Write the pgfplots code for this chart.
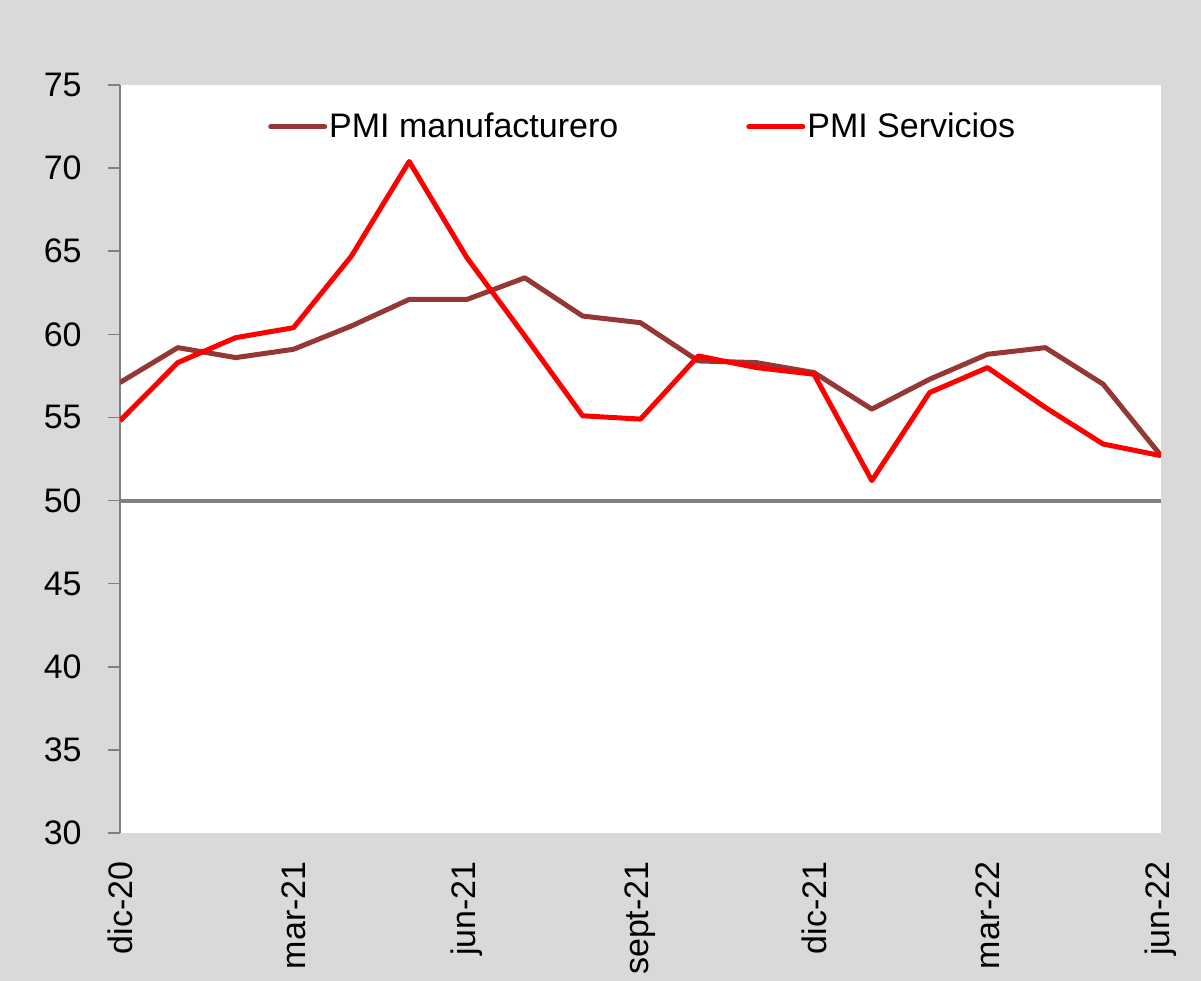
\documentclass[border=0pt]{standalone}
\usepackage{pgfplots}
\pgfplotsset{compat=1.18}
\usepackage{fontspec}
\setmainfont{Liberation Sans}
\definecolor{bgc}{HTML}{D9D9D9}
\definecolor{manu}{HTML}{953735}
\definecolor{servc}{HTML}{FF0000}
\begin{document}
\begin{tikzpicture}
\fill[bgc] (-60bp,-74bp) rectangle (540.5bp,416.5bp);
\useasboundingbox (-60bp,-74bp) rectangle (540.5bp,416.5bp);
\begin{axis}[
  at={(0,0)}, anchor=south west,
  scale only axis, width=520.5bp, height=374bp,
  xmin=0, xmax=18, ymin=30, ymax=75,
  axis background/.style={fill=white},
  axis lines*=left,
  x axis line style={draw=none},
  y axis line style={color=gray, line width=0.75bp},
  ytick={30,35,...,75},
  xtick={0,3,...,18},
  xticklabels={dic-20,mar-21,jun-21,sept-21,dic-21,mar-22,jun-22},
  x tick style={draw=none},
  y tick style={color=gray, line width=0.75bp},
  tick align=outside,
  major tick length=6bp,
  tick label style={font=\fontsize{17bp}{20bp}\selectfont},
  /pgf/number format/assume math mode=true,
  xticklabel style={rotate=90, anchor=east, inner sep=8bp},
  yticklabel style={inner sep=13bp},
  legend columns=2,
  legend style={at={(0.142,0.944)}, anchor=west, draw=none, fill=none, inner sep=0pt,
    font=\fontsize{17bp}{20bp}\selectfont,
    nodes={inner sep=1bp},
    /tikz/every even column/.append style={column sep=63bp}},
  legend image code/.code={\draw[#1, line cap=round] (0bp,0bp) -- (27bp,0bp);},
  every axis plot/.append style={line width=2.5bp, line join=round},
]
\addplot[manu] coordinates {
(0,57.1) (1,59.2) (2,58.6) (3,59.1) (4,60.5) (5,62.1) (6,62.1) (7,63.4) (8,61.1)
(9,60.7) (10,58.4) (11,58.3) (12,57.7) (13,55.5) (14,57.3) (15,58.8) (16,59.2)
(17,57.0) (18,52.7)};
\addlegendentry{PMI manufacturero}
\addplot[servc] coordinates {
(0,54.8) (1,58.3) (2,59.8) (3,60.4) (4,64.7) (5,70.4) (6,64.6) (7,59.9) (8,55.1)
(9,54.9) (10,58.7) (11,58.0) (12,57.6) (13,51.2) (14,56.5) (15,58.0) (16,55.6)
(17,53.4) (18,52.7)};
\addlegendentry{PMI Servicios}
\addplot[gray, line width=2bp, forget plot] coordinates {(0,50) (18,50)};
\end{axis}
\end{tikzpicture}
\end{document}
